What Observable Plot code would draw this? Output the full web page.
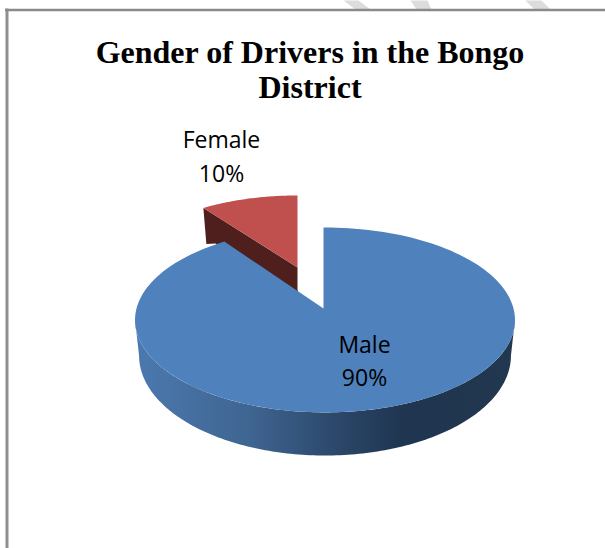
<!DOCTYPE html>
<html><head><meta charset="utf-8">
<script src="https://cdn.jsdelivr.net/npm/d3@7"></script>
<script src="https://cdn.jsdelivr.net/npm/@observablehq/plot@0.6"></script>
<style>html,body{margin:0;padding:0;background:#fff}svg{display:block}</style>
</head><body><div id="chart"></div>
<script>
const categories = ["Male", "Female"];
const values = [90, 10];
const titleLines = ["Gender of Drivers in the Bongo", "District"];

const W = 605, H = 548;
const total = d3.sum(values);
const cx = 324.5, cy = 308, R = 188.5, A = 91, p = 0.1243;
const end = 2 * Math.PI * values[0] / total;
const proj = (t, o = {}) => {
  const {r = R, a = A, ox = cx, oy = cy, sx = 1, sy = 1} = o;
  const u = Math.sin(t), v = Math.cos(t), w = 1 + p * v;
  return [ox + sx * r * u / w, oy - sy * a * v / w];
};
const arc = (t0, t1, o, n = 160) => d3.range(n + 1).map(i => proj(t0 + (t1 - t0) * i / n, o));

// Female, exploded away from the pie
const fem = {ox: 297, oy: 267, sx: 0.935, sy: 0.89};
const femTop = [[297, 267], ...arc(end, 2 * Math.PI, fem, 50)];
const c0 = proj(end, fem);
const femWall = [c0, [297, 267], [297, 289], [300, 300], [215, 243], [c0[0] + 3, c0[1] + 36]];

// Male
const maleTop = [[323, cy], [323, cy - A / (1 + p)], ...arc(0, end, {})];
const low = {oy: 342.6, r: 184.5, a: 98.4};
const sideT0 = Math.acos(-p), sideT1 = 2 * Math.PI - sideT0;
const maleSide = [...arc(sideT0, sideT1, {}), ...arc(sideT1, sideT0, low)];

const poly = (pts, fill) => Plot.line(pts, {x: d => d[0], y: d => d[1], fill, stroke: "none", curve: "linear"});

const gradient = () => {
  const svg = d3.create("svg:defs");
  const g = svg.append("linearGradient").attr("id", "wall").attr("gradientUnits", "userSpaceOnUse")
    .attr("x1", 135).attr("x2", 514).attr("y1", 0).attr("y2", 0);
  [[0, "#4b79af"], [0.3, "#3f6591"], [0.55, "#2a4567"], [0.71, "#1f3550"], [1, "#22384f"]]
    .forEach(([o, c]) => g.append("stop").attr("offset", o).attr("stop-color", c));
  return svg.node();
};

// Pale diagonal watermark bands above the frame
const bands = [
  [[343, 0], [358, 0], [370, 9], [355, 9]],
  [[410, 0], [427, 0], [431, 9], [416, 9]],
  [[525, 0], [541, 0], [550, 9], [534, 9]]
];

const plot = Plot.plot({
  width: W, height: H, margin: 0,
  x: {domain: [0, W], range: [0, W], axis: null},
  y: {domain: [0, H], range: [0, H], axis: null},
  style: {background: "#fff"},
  marks: [
    gradient,
    ...bands.map(b => poly(b, "#dcdcdc")),
    poly(femWall, "#4f1f1e"),
    poly(femTop, "#c0504d"),
    poly(maleSide, "url(#wall)"),
    poly(maleTop, "#4f81bd"),
    Plot.ruleX([6.5], {y1: 8.5, y2: H, stroke: "#8f8f8f", strokeWidth: 3}),
    Plot.ruleY([9.5], {x1: 5, x2: W, stroke: "#8a8a8a", strokeWidth: 2.5}),
    Plot.text(titleLines, {x: 309.5, y: (d, i) => 52 + i * 35, text: d => d, fontFamily: "Liberation Serif", fontWeight: "bold", fontSize: 32, fill: "#000", textAnchor: "middle"}),
    Plot.text([categories[1], values[1] + "%"], {x: 221, y: (d, i) => 140.5 + i * 33.5, text: d => d, fontFamily: "Open Sans", fontSize: 23, fill: "#000", textAnchor: "middle"}),
    Plot.text([categories[0], values[0] + "%"], {x: 364, y: (d, i) => 345 + i * 33.5, text: d => d, fontFamily: "Open Sans", fontSize: 23, fill: "#000", textAnchor: "middle"})
  ]
});
document.getElementById("chart").append(plot);
</script></body></html>
